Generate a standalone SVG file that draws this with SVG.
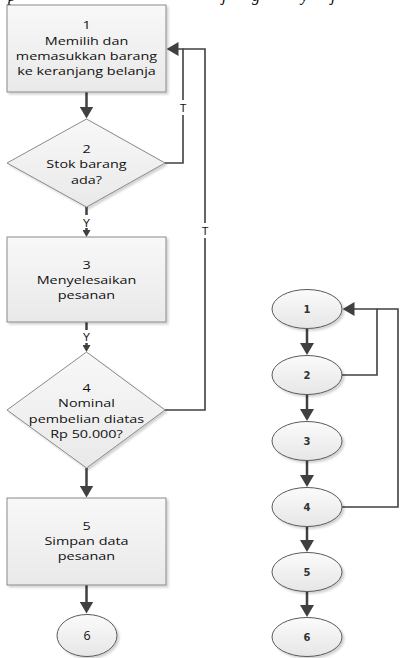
<svg xmlns="http://www.w3.org/2000/svg" width="400" height="658" viewBox="0 0 400 658">
  <defs>
    <style>
      .shape { fill: url(#boxFill); stroke: #8a8a8a; stroke-width: 1; filter: url(#shadow); }
      .oval { fill: url(#ovalFill); stroke: #5a5a5a; stroke-width: 1; filter: url(#shadow); }
      .txt { font-family: "Open Sans", "Liberation Sans", sans-serif; font-size: 11px; fill: #111; text-anchor: middle; }
      .num { font-family: "DejaVu Sans", sans-serif; font-size: 10px; font-weight: bold; fill: #333; text-anchor: middle; }
      .tag { font-family: "Liberation Sans", sans-serif; font-size: 11px; fill: #111; text-anchor: middle; }
      .page { font-family: "Liberation Serif", serif; font-size: 16px; font-style: italic; fill: #000; }
      .flow { fill: none; stroke: #404040; stroke-width: 2.5; }
      .loop { fill: none; stroke: #404040; stroke-width: 1.6; }
      .head { fill: #404040; }
    </style>
    <linearGradient id="boxFill" x1="0" y1="0" x2="0" y2="1">
      <stop offset="0" stop-color="#f8f8f8"/>
      <stop offset="1" stop-color="#e9e9e9"/>
    </linearGradient>
    <linearGradient id="ovalFill" x1="0" y1="0" x2="0" y2="1">
      <stop offset="0" stop-color="#fbfbfb"/>
      <stop offset="1" stop-color="#e6e6e6"/>
    </linearGradient>
    <filter id="shadow" x="-10%" y="-10%" width="125%" height="130%">
      <feDropShadow dx="2" dy="2" stdDeviation="1.2" flood-color="#000" flood-opacity="0.18"/>
    </filter>
    <!-- large filled arrowhead, anchored at its base -->
    <marker id="arrow" markerUnits="userSpaceOnUse" viewBox="0 0 12 14" refX="0.5" refY="7" markerWidth="12" markerHeight="14" orient="auto">
      <path class="head" d="M0,0 L12,7 L0,14 z"/>
    </marker>
    <!-- small arrowhead used under the Y labels -->
    <marker id="arrowSmall" markerUnits="userSpaceOnUse" viewBox="0 0 7 8" refX="0.5" refY="4" markerWidth="7" markerHeight="8" orient="auto">
      <path class="head" d="M0,0 L7,4 L0,8 z"/>
    </marker>
  </defs>

  <!-- descenders of the line of page text above the figure -->
  <g id="page-text">
    <text class="page" x="8" y="0.5">p</text>
    <text class="page" x="222" y="0.5">j</text>
    <text class="page" x="252" y="0.5">g</text>
    <text class="page" x="301" y="0.5">y</text>
    <text class="page" x="331" y="0.5">j</text>
  </g>

  <!-- connectors -->
  <g id="connectors">
    <!-- flowchart main path -->
    <path class="flow" d="M86.5,92 V107" marker-end="url(#arrow)"/>
    <path class="flow" d="M86.5,207 V215"/>
    <path class="flow" d="M86.5,228 V230.5" marker-end="url(#arrowSmall)"/>
    <path class="flow" d="M86.5,322 V330"/>
    <path class="flow" d="M86.5,343 V345.5" marker-end="url(#arrowSmall)"/>
    <path class="flow" d="M86.5,468 V486" marker-end="url(#arrow)"/>
    <path class="flow" d="M86.5,585 V602" marker-end="url(#arrow)"/>
    <!-- flowchart loops back to step 1 -->
    <path class="loop" d="M165,163 H183 V49 H178" marker-end="url(#arrow)"/>
    <path class="loop" d="M165,410 H205 V49 H183"/>
    <!-- flow graph edges -->
    <path class="flow" d="M307,328.5 V343.5" marker-end="url(#arrow)"/>
    <path class="flow" d="M307,394.5 V409.5" marker-end="url(#arrow)"/>
    <path class="flow" d="M307,460.5 V475.5" marker-end="url(#arrow)"/>
    <path class="flow" d="M307,526.5 V540.5" marker-end="url(#arrow)"/>
    <path class="flow" d="M307,591.5 V605.5" marker-end="url(#arrow)"/>
    <path class="loop" d="M342,375 H377 V309 H354" marker-end="url(#arrow)"/>
    <path class="loop" d="M342,507 H398 V309 H377"/>
    <!-- branch labels -->
    <rect x="178" y="100" width="10" height="15" fill="#fff"/>
    <text class="tag" x="183" y="111.5">T</text>
    <rect x="200" y="223" width="10" height="15" fill="#fff"/>
    <text class="tag" x="205" y="234.5">T</text>
    <text class="tag" x="86.5" y="227">Y</text>
    <text class="tag" x="86.5" y="341">Y</text>
  </g>

  <!-- flowchart -->
  <g id="step1">
    <rect class="shape" x="7" y="5" width="159" height="87"/>
    <g transform="translate(86.5,0) scale(1.31,1)">
      <text class="txt" x="0" y="29">1</text>
      <text class="txt" x="0" y="45.5">Memilih dan</text>
      <text class="txt" x="0" y="60.5">memasukkan barang</text>
      <text class="txt" x="0" y="75.5">ke keranjang belanja</text>
    </g>
  </g>
  <g id="step2">
    <polygon class="shape" points="86.5,119 165,163 86.5,207 7,163"/>
    <g transform="translate(86.5,0) scale(1.31,1)">
      <text class="txt" x="0" y="153">2</text>
      <text class="txt" x="0" y="168.5">Stok barang</text>
      <text class="txt" x="0" y="184.5">ada?</text>
    </g>
  </g>
  <g id="step3">
    <rect class="shape" x="7" y="237" width="159" height="85"/>
    <g transform="translate(86.5,0) scale(1.31,1)">
      <text class="txt" x="0" y="269">3</text>
      <text class="txt" x="0" y="284">Menyelesaikan</text>
      <text class="txt" x="0" y="299">pesanan</text>
    </g>
  </g>
  <g id="step4">
    <polygon class="shape" points="86.5,352 165,410 86.5,468 7,410"/>
    <g transform="translate(86.5,0) scale(1.31,1)">
      <text class="txt" x="0" y="392">4</text>
      <text class="txt" x="0" y="407">Nominal</text>
      <text class="txt" x="0" y="423.5">pembelian diatas</text>
      <text class="txt" x="0" y="438.5">Rp 50.000?</text>
    </g>
  </g>
  <g id="step5">
    <rect class="shape" x="7" y="498" width="159" height="87"/>
    <g transform="translate(86.5,0) scale(1.31,1)">
      <text class="txt" x="0" y="530.5">5</text>
      <text class="txt" x="0" y="545.5">Simpan data</text>
      <text class="txt" x="0" y="560.5">pesanan</text>
    </g>
  </g>
  <g id="step6">
    <ellipse class="oval" cx="87" cy="635.5" rx="30" ry="21"/>
    <text class="txt" x="87" y="640" style="font-size:12.5px">6</text>
  </g>

  <!-- flow graph -->
  <g id="node1">
    <ellipse class="oval" cx="307" cy="309" rx="35" ry="19.5"/>
    <text class="num" x="307" y="313">1</text>
  </g>
  <g id="node2">
    <ellipse class="oval" cx="307" cy="375" rx="35" ry="19.5"/>
    <text class="num" x="307" y="379">2</text>
  </g>
  <g id="node3">
    <ellipse class="oval" cx="307" cy="441" rx="35" ry="19.5"/>
    <text class="num" x="307" y="445">3</text>
  </g>
  <g id="node4">
    <ellipse class="oval" cx="307" cy="507" rx="35" ry="19.5"/>
    <text class="num" x="307" y="511">4</text>
  </g>
  <g id="node5">
    <ellipse class="oval" cx="307" cy="572" rx="35" ry="19.5"/>
    <text class="num" x="307" y="576">5</text>
  </g>
  <g id="node6">
    <ellipse class="oval" cx="307" cy="637" rx="35" ry="19.5"/>
    <text class="num" x="307" y="641">6</text>
  </g>
</svg>
